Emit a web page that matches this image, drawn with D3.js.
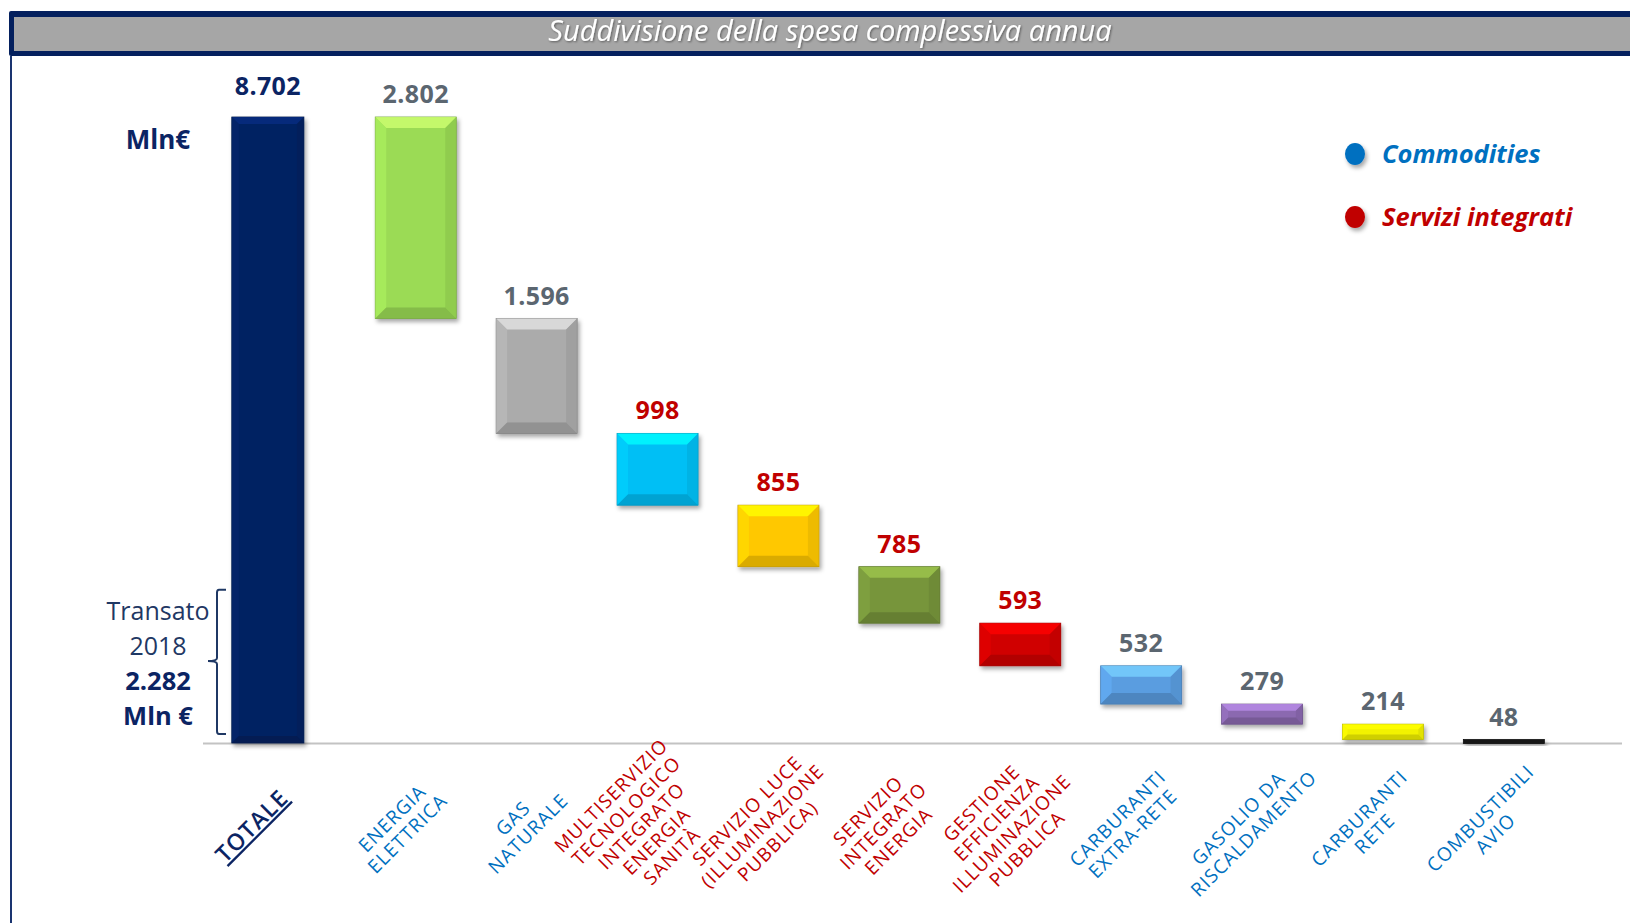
<!DOCTYPE html>
<html>
<head>
<meta charset="utf-8">
<script src="https://cdn.jsdelivr.net/npm/d3@7"></script>
<style>
  html, body { margin: 0; padding: 0; background: #ffffff; }
  svg { display: block; }
</style>
</head>
<body>
<svg id="chart" width="1630" height="923"></svg>
<script>
// ---------------- DATA ----------------
const categories = [
  ["TOTALE"],
  ["ENERGIA", "ELETTRICA"],
  ["GAS", "NATURALE"],
  ["MULTISERVIZIO", "TECNOLOGICO", "INTEGRATO", "ENERGIA", "SANITÀ"],
  ["SERVIZIO LUCE", "(ILLUMINAZIONE", "PUBBLICA)"],
  ["SERVIZIO", "INTEGRATO", "ENERGIA"],
  ["GESTIONE", "EFFICIENZA", "ILLUMINAZIONE", "PUBBLICA"],
  ["CARBURANTI", "EXTRA-RETE"],
  ["GASOLIO DA", "RISCALDAMENTO"],
  ["CARBURANTI", "RETE"],
  ["COMBUSTIBILI", "AVIO"]
];
const values = [8702, 2802, 1596, 998, 855, 785, 593, 532, 279, 214, 48];
const groups = ["totale", "commodities", "commodities", "servizi", "servizi", "servizi", "servizi",
                "commodities", "commodities", "commodities", "commodities"];
const barColors = ["#062262", "#9bdb55", "#ababab", "#00bff5", "#ffc800", "#77953b",
                   "#d00000", "#5a9de0", "#8b69b0", "#f2f200", "#151515"];
const legendLabels = ["Commodities", "Servizi integrati"];
const legendGroups = ["commodities", "servizi"];
const transatoLabel = ["Transato", "2018"];
const transatoValue = 2282;
const titleText = "Suddivisione della spesa complessiva annua";
const unitLabel = "Mln€";
const transatoUnit = "Mln €";

// ---------------- STYLE ----------------
const labelColor = { totale: "#0b2463", commodities: "#5b6670", servizi: "#c00000" };
const catColor = { totale: "#0b2463", commodities: "#0070c0", servizi: "#c00000" };
const legendColor = { commodities: "#0070c0", servizi: "#c00000" };
const navy = "#0b2463";
const totalShift = -27;   // the total bar sits a little further left than the band grid

const W = 1630, H = 923;
const svg = d3.select("#chart");
const fmt = d3.formatLocale({ decimal: ",", thousands: ".", grouping: [3], currency: ["", "€"] }).format(",d");

// defs
const defs = svg.append("defs");
const f = defs.append("filter").attr("id", "shadow").attr("x", "-20%").attr("y", "-20%").attr("width", "150%").attr("height", "160%");
f.append("feDropShadow").attr("dx", 2).attr("dy", 3).attr("stdDeviation", 2.2).attr("flood-color", "#000").attr("flood-opacity", 0.35);
const ft = defs.append("filter").attr("id", "tshadow");
ft.append("feDropShadow").attr("dx", 1).attr("dy", 1).attr("stdDeviation", 0.8).attr("flood-color", "#000").attr("flood-opacity", 0.45);

// ---------------- TITLE BAND ----------------
svg.append("rect").attr("x", 9).attr("y", 11).attr("width", W).attr("height", 45)
  .attr("rx", 2).attr("fill", "#04205e");
svg.append("rect").attr("x", 14).attr("y", 17).attr("width", W).attr("height", 34)
  .attr("fill", "#a6a6a6");
svg.append("line").attr("x1", 11).attr("x2", 11).attr("y1", 56).attr("y2", H)
  .attr("stroke", "#1a3470").attr("stroke-width", 2);
svg.append("text").attr("x", 830).attr("y", 41)
  .attr("text-anchor", "middle")
  .attr("font-family", "'Open Sans', sans-serif").attr("font-style", "italic")
  .attr("font-size", 29).attr("fill", "#ffffff")
  .attr("filter", "url(#tshadow)")
  .text(titleText);

// ---------------- SCALES ----------------
const idx = d3.range(values.length);
const x = d3.scaleBand().domain(idx).range([234.4, 1564.3]).paddingInner(0.33).paddingOuter(0.165);
const y = d3.scaleLinear().domain([0, values[0]]).range([743, 117]);
const cxOf = i => x(i) + x.bandwidth() / 2 + (i === 0 ? totalShift : 0);

// waterfall segments
let remaining = values[0];
const segs = values.map((v, i) => {
  if (i === 0) return { i, lo: 0, hi: v };
  const hi = remaining, lo = remaining - v;
  remaining = lo;
  return { i, lo, hi };
});

// baseline
svg.append("line").attr("x1", 203).attr("x2", 1622).attr("y1", y(0) + 0.5).attr("y2", y(0) + 0.5)
  .attr("stroke", "#c3c3c3").attr("stroke-width", 2);

// ---------------- BARS ----------------
const bars = svg.append("g");
segs.forEach(s => {
  const bw = s.i === 0 ? x.bandwidth() * 0.89 : x.bandwidth();
  const x0 = cxOf(s.i) - bw / 2;
  const y0 = y(s.hi);
  const h = Math.max(4, y(s.lo) - y(s.hi));
  const c = d3.color(barColors[s.i]);
  const g = bars.append("g");
  g.append("rect").attr("x", x0).attr("y", y0).attr("width", bw).attr("height", h)
    .attr("fill", c.formatHex()).attr("stroke", c.darker(0.8).formatHex()).attr("stroke-width", 0.8)
    .attr("filter", "url(#shadow)");
  const b = Math.min(s.i === 0 ? 7 : 11, h / 3, bw / 4);
  if (h > 6) {
    const poly = (pts, fill, op) => g.append("polygon")
      .attr("points", pts.map(p => p.join(",")).join(" "))
      .attr("fill", fill).attr("opacity", op);
    poly([[x0, y0], [x0 + bw, y0], [x0 + bw - b, y0 + b], [x0 + b, y0 + b]], c.brighter(0.8).formatHex(), 0.8);
    poly([[x0, y0], [x0 + b, y0 + b], [x0 + b, y0 + h - b], [x0, y0 + h]], c.brighter(0.3).formatHex(), 0.6);
    poly([[x0 + bw, y0], [x0 + bw - b, y0 + b], [x0 + bw - b, y0 + h - b], [x0 + bw, y0 + h]], c.darker(0.3).formatHex(), 0.65);
    poly([[x0, y0 + h], [x0 + bw, y0 + h], [x0 + bw - b, y0 + h - b], [x0 + b, y0 + h - b]], c.darker(0.6).formatHex(), 0.75);
  }
  // value label
  svg.append("text")
    .attr("x", cxOf(s.i))
    .attr("y", y0 - (s.i === 0 ? 22 : 14))
    .attr("text-anchor", "middle")
    .attr("font-family", "'Open Sans', sans-serif").attr("font-weight", 700)
    .attr("font-size", 25).attr("letter-spacing", 0.4)
    .attr("fill", labelColor[groups[s.i]])
    .text(fmt(values[s.i]));
});

// ---------------- CATEGORY LABELS ----------------
const lh = 21.5;
categories.forEach((lines, i) => {
  const cx = cxOf(i) - 16;
  const cy = 826;
  const t = svg.append("text")
    .attr("transform", `translate(${cx},${cy}) rotate(-45)`)
    .attr("text-anchor", "middle")
    .attr("font-family", "'Open Sans', sans-serif")
    .attr("font-size", 19)
    .attr("letter-spacing", 1.1)
    .attr("fill", catColor[groups[i]])
    .attr("text-decoration", i === 0 ? "underline" : null);
  lines.forEach((ln, k) => {
    t.append("tspan").attr("x", 0)
      .attr("y", (k - (lines.length - 1) / 2) * lh)
      .attr("dy", "0.35em")
      .text(ln);
  });
  if (i === 0) t.attr("font-size", 23).attr("font-weight", 600);
});

// ---------------- UNIT + TRANSATO ANNOTATION ----------------
svg.append("text").attr("x", 158).attr("y", 149).attr("text-anchor", "middle")
  .attr("font-family", "'Open Sans', sans-serif").attr("font-weight", 700).attr("font-size", 26)
  .attr("fill", navy).text(unitLabel);

const ann = svg.append("g").attr("font-family", "'Open Sans', sans-serif").attr("fill", navy)
  .attr("text-anchor", "middle");
ann.append("text").attr("x", 158).attr("y", 620).attr("font-size", 25).attr("fill", "#1f3864").text(transatoLabel[0]);
ann.append("text").attr("x", 158).attr("y", 655).attr("font-size", 25).attr("fill", "#1f3864").text(transatoLabel[1]);
ann.append("text").attr("x", 158).attr("y", 690).attr("font-size", 25.5).attr("font-weight", 700).text(fmt(transatoValue));
ann.append("text").attr("x", 158).attr("y", 725).attr("font-size", 25.5).attr("font-weight", 700).text(transatoUnit);

// brace
const bTop = y(transatoValue) + 11, bBot = y(0) - 9, bMid = (bTop + bBot) / 2 - 1;
const bx = 217;
svg.append("path")
  .attr("d", `M${bx + 9},${bTop} L${bx + 2},${bTop} Q${bx},${bTop} ${bx},${bTop + 3} L${bx},${bMid - 3} Q${bx},${bMid} ${bx - 9},${bMid} Q${bx},${bMid} ${bx},${bMid + 3} L${bx},${bBot - 3} Q${bx},${bBot} ${bx + 2},${bBot} L${bx + 9},${bBot}`)
  .attr("fill", "none").attr("stroke", "#1f3864").attr("stroke-width", 2);

// ---------------- LEGEND ----------------
const leg = svg.append("g");
legendLabels.forEach((lab, k) => {
  const ly = 154 + k * 63;
  leg.append("ellipse").attr("cx", 1355).attr("cy", ly).attr("rx", 10).attr("ry", 11)
    .attr("fill", legendColor[legendGroups[k]]).attr("filter", "url(#shadow)");
  leg.append("text").attr("x", 1382).attr("y", ly + 9)
    .attr("font-family", "'Open Sans', sans-serif").attr("font-weight", 700).attr("font-style", "italic")
    .attr("font-size", 25.5).attr("fill", legendColor[legendGroups[k]])
    .text(lab);
});
</script>
</body>
</html>
